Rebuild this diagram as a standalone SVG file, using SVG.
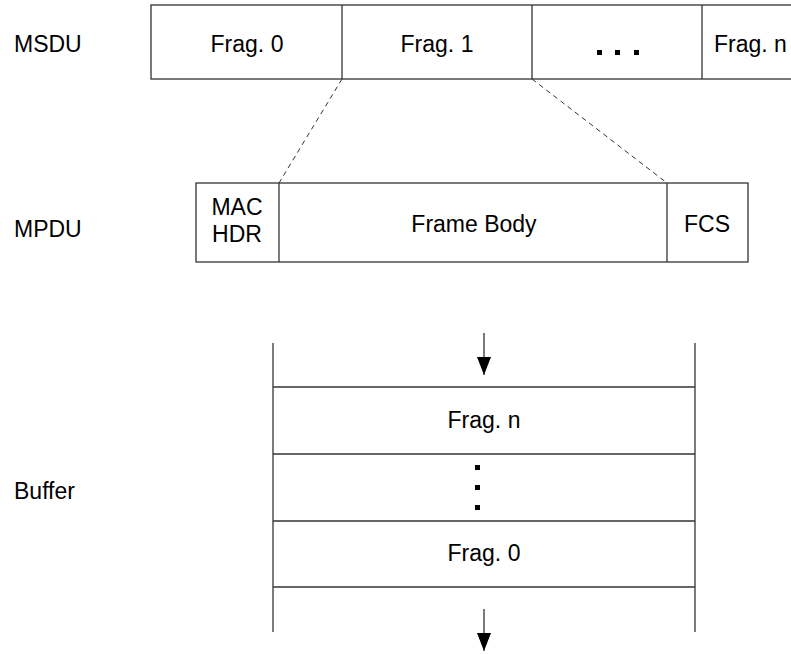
<svg xmlns="http://www.w3.org/2000/svg" width="791" height="654" viewBox="0 0 791 654">
<defs>
<style>
.t{font-family:"Liberation Sans",Arial,sans-serif;font-size:23px;fill:#000}
.m{text-anchor:middle}
.b{fill:#fff;stroke:#333;stroke-width:1.3}
.l{stroke:#333;stroke-width:1.3;fill:none}
.d{stroke:#333;stroke-width:1;stroke-dasharray:5,4;fill:none}
.dot{fill:#000}
</style>
<marker id="ah" markerWidth="18" markerHeight="14" refX="18" refY="7" orient="auto" markerUnits="userSpaceOnUse" viewBox="0 0 18 14">
<path d="M0,0 L18,7 L0,14 Z" fill="#000"/>
</marker>
</defs>
<rect width="791" height="654" fill="#fff"/>
<g id="labels">
<text class="t" x="14" y="52">MSDU</text>
<text class="t" x="14" y="237">MPDU</text>
<text class="t" x="14" y="499">Buffer</text>
</g>
<g id="msdu">
<rect class="b" x="151" y="5" width="660" height="74"/>
<line class="l" x1="342" y1="5" x2="342" y2="79"/>
<line class="l" x1="532" y1="5" x2="532" y2="79"/>
<line class="l" x1="702" y1="5" x2="702" y2="79"/>
<text class="t m" x="247" y="52">Frag. 0</text>
<text class="t m" x="437" y="52">Frag. 1</text>
<rect class="dot" x="597" y="50" width="5" height="5"/>
<rect class="dot" x="615" y="50" width="5" height="5"/>
<rect class="dot" x="634" y="50" width="5" height="5"/>
<text class="t" x="714" y="52">Frag. n</text>
</g>
<g id="mpdu">
<rect class="b" x="196" y="183" width="552" height="79"/>
<line class="l" x1="279" y1="183" x2="279" y2="262"/>
<line class="l" x1="667" y1="183" x2="667" y2="262"/>
<text class="t m" x="237" y="215">MAC</text>
<text class="t m" x="237" y="242">HDR</text>
<text class="t m" x="474" y="232">Frame Body</text>
<text class="t m" x="707" y="232">FCS</text>
</g>
<g id="buffer">
<line class="l" x1="273" y1="343" x2="273" y2="632"/>
<line class="l" x1="695" y1="343" x2="695" y2="632"/>
<line class="l" x1="273" y1="387" x2="695" y2="387"/>
<line class="l" x1="273" y1="454" x2="695" y2="454"/>
<line class="l" x1="273" y1="521" x2="695" y2="521"/>
<line class="l" x1="273" y1="587" x2="695" y2="587"/>
<text class="t m" x="484" y="428">Frag. n</text>
<text class="t m" x="484" y="561">Frag. 0</text>
<rect class="dot" x="475" y="465" width="5" height="5"/>
<rect class="dot" x="475" y="485" width="5" height="5"/>
<rect class="dot" x="475" y="505" width="5" height="5"/>
</g>
<g id="connectors">
<line class="d" x1="342" y1="79" x2="279" y2="183"/>
<line class="d" x1="532" y1="79" x2="667" y2="183"/>
<line class="l" x1="484" y1="333" x2="484" y2="375" marker-end="url(#ah)"/>
<line class="l" x1="484" y1="609" x2="484" y2="651" marker-end="url(#ah)"/>
</g>
</svg>
